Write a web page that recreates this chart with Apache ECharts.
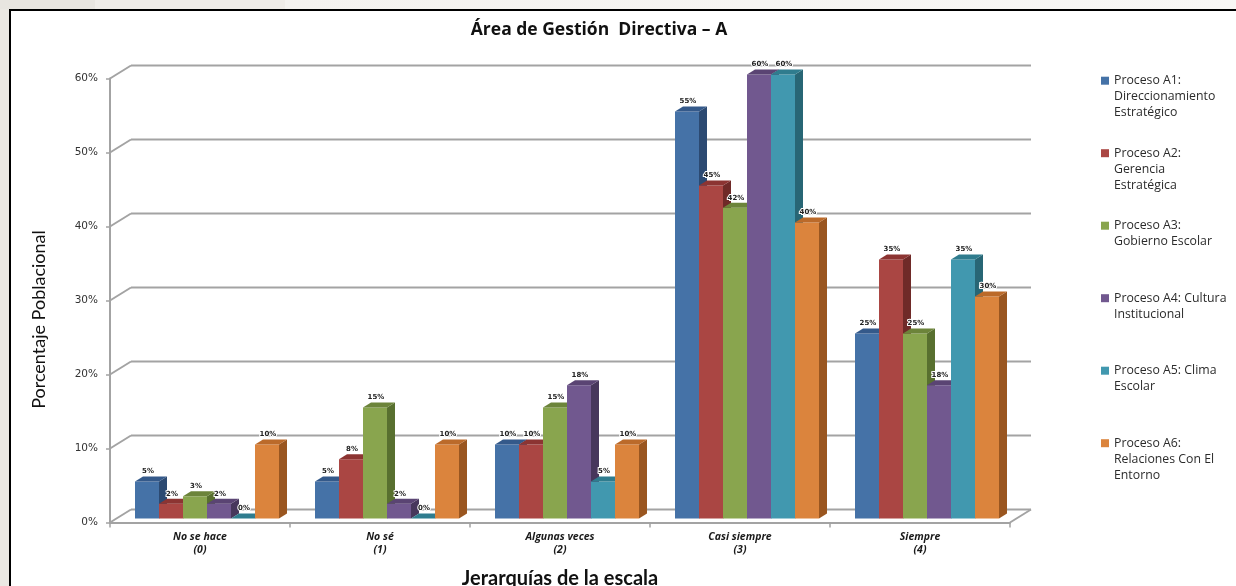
<!DOCTYPE html>
<html>
<head>
<meta charset="utf-8">
<script src="https://cdn.jsdelivr.net/npm/echarts@6/dist/echarts.min.js"></script>
<style>
  html, body { margin: 0; padding: 0; width: 1236px; height: 586px; overflow: hidden; background: #ebe8e3; }
  #strip { position: absolute; left: 0; top: 0; width: 1236px; height: 9px;
    background: linear-gradient(to right, #e8e5e0 0, #e8e5e0 95px, #efece8 95px, #efece8 285px, #f4f2ef 285px, #f8f7f5 100%); }
  #frame { position: absolute; left: 9px; top: 9px; width: 1240px; height: 590px;
    border-left: 2px solid #000; border-top: 2px solid #000; background: #fff; }
  #chart { position: absolute; left: 0; top: 0; width: 1236px; height: 586px; }
</style>
</head>
<body>
<div id="strip"></div>
<div id="frame"></div>
<div id="chart"></div>
<script>
// Scale categories (x axis)
const categories = ['No se hace\n(0)', 'No sé\n(1)', 'Algunas veces\n(2)', 'Casi siempre\n(3)', 'Siempre\n(4)'];

// Legend text, one entry per process, split into the lines shown
const legendLines = [
  ['Proceso A1:', 'Direccionamiento', 'Estratégico'],
  ['Proceso A2:', 'Gerencia', 'Estratégica'],
  ['Proceso A3:', 'Gobierno Escolar'],
  ['Proceso A4: Cultura', 'Institucional'],
  ['Proceso A5: Clima', 'Escolar'],
  ['Proceso A6:', 'Relaciones Con El', 'Entorno']
];

// Percentages per process, in category order
const procesoA1 = [5, 5, 10, 55, 25];
const procesoA2 = [2, 8, 10, 45, 35];
const procesoA3 = [3, 15, 15, 42, 25];
const procesoA4 = [2, 2, 18, 60, 18];
const procesoA5 = [0, 0, 5, 60, 35];
const procesoA6 = [10, 10, 10, 40, 30];

// Y axis ticks (percent)
const yTicks = [0, 10, 20, 30, 40, 50, 60];

const seriesValues = [procesoA1, procesoA2, procesoA3, procesoA4, procesoA5, procesoA6];
const processNames = legendLines.map(l => l.join(' '));

// Face colours for the pseudo-3D columns
const frontColors = ['#4572a7', '#aa4643', '#89a54e', '#71588f', '#4198af', '#db843d'];
const topColors   = ['#34598a', '#8c3432', '#6c843a', '#5a4473', '#2f7c8e', '#bb6a2a'];
const sideColors  = ['#2c4a72', '#6f2a28', '#58702f', '#47375c', '#286675', '#9a5620'];

// Depth geometry (pixels)
const FLOOR_DEPTH = [21, -13];
const BAR_OFFSET = [7, -4];
const BAR_DEPTH = [8, -5];
const GROUP_FRAC = 0.8;
const N = seriesValues.length;
const FONT = 'Lato, "Open Sans", sans-serif';
const WIDE_FONT = '"Open Sans", Lato, sans-serif';

const wallStyle = { stroke: '#a3a3a3', lineWidth: 2 };

function barGeom(api, ci, k, v) {
  const band = api.size([1, 0])[0];
  const bw = band * GROUP_FRAC / N;
  const base = api.coord([ci, 0]);
  const top = api.coord([ci, v]);
  const x0 = base[0] - (N / 2) * bw + k * bw + BAR_OFFSET[0];
  return { x0, bw, yb: base[1] + BAR_OFFSET[1], yt: top[1] + BAR_OFFSET[1] };
}

function barRenderer(k) {
  return function (params, api) {
    const g = barGeom(api, api.value(0), k, api.value(1));
    const dx = BAR_DEPTH[0], dy = BAR_DEPTH[1];
    const { x0, bw, yb, yt } = g;
    return {
      type: 'group',
      children: [
        { type: 'polygon', shape: { points: [[x0 + bw, yb], [x0 + bw + dx, yb + dy], [x0 + bw + dx, yt + dy], [x0 + bw, yt]] },
          style: { fill: sideColors[k] } },
        { type: 'rect', shape: { x: x0, y: yt, width: bw, height: yb - yt }, style: { fill: frontColors[k] } },
        { type: 'polygon', shape: { points: [[x0, yt], [x0 + bw, yt], [x0 + bw + dx, yt + dy], [x0 + dx, yt + dy]] },
          style: { fill: topColors[k] } }
      ]
    };
  };
}

// Walls: left-wall diagonals and back-wall gridlines at every tick
const wallSeries = {
  type: 'custom',
  name: 'walls',
  silent: true,
  clip: false,
  z: 1,
  data: yTicks.map(v => [0, v]),
  encode: { x: 0, y: 1 },
  renderItem(params, api) {
    const v = api.value(1);
    const cs = params.coordSys;
    const y = api.coord([0, v])[1];
    const x0 = cs.x, x1 = cs.x + cs.width;
    const fx = FLOOR_DEPTH[0], fy = FLOOR_DEPTH[1];
    const children = [
      { type: 'line', shape: { x1: x0, y1: y, x2: x0 + fx, y2: y + fy }, style: wallStyle },
      { type: 'line', shape: { x1: x0 + fx, y1: y + fy, x2: x1 + fx, y2: y + fy }, style: wallStyle }
    ];
    if (v === 0) {
      children.push({ type: 'line', shape: { x1: x1, y1: y, x2: x1 + fx, y2: y + fy }, style: wallStyle });
    }
    return { type: 'group', children };
  }
};

const barSeries = seriesValues.map((vals, k) => ({
  type: 'custom',
  name: processNames[k],
  clip: false,
  z: 2,
  itemStyle: { color: frontColors[k] },
  data: vals.map((v, i) => [i, v]),
  encode: { x: 0, y: 1 },
  renderItem: barRenderer(k)
}));

// Value labels above every column
const labelData = [];
seriesValues.forEach((vals, k) => vals.forEach((v, i) => labelData.push([i, v, k])));
const labelSeries = {
  type: 'custom',
  name: 'labels',
  silent: true,
  clip: false,
  z: 3,
  data: labelData,
  encode: { x: 0, y: 1 },
  renderItem(params, api) {
    const v = api.value(1), k = api.value(2);
    const g = barGeom(api, api.value(0), k, v);
    return {
      type: 'text',
      x: g.x0 + g.bw / 2 + 1,
      y: g.yt - 10,
      style: {
        text: v + '%',
        fill: '#222',
        font: 'bold 7px "DejaVu Sans", sans-serif',
        align: 'center',
        verticalAlign: 'middle',
        stroke: '#fff',
        lineWidth: 2
      }
    };
  }
};

// Legend: icon + first line; remaining lines are set underneath as text blocks
const LEG_LH = 16;
const LEG_STEP = 72.5;
const LEG_FIRST = 80.7;
const LEG_ICON_X = 1101;
const LEG_TEXT_X = LEG_ICON_X + 8 + 5;
const legendTextStyle = { fontFamily: WIDE_FONT, fontSize: 12.3, color: '#2b2b2b', lineHeight: LEG_LH };
const firstLineOf = {};
legendLines.forEach((lines, k) => { firstLineOf[processNames[k]] = lines[0]; });

const legend = {
  orient: 'vertical',
  left: LEG_ICON_X,
  top: LEG_FIRST - LEG_LH / 2,
  padding: 0,
  itemWidth: 8,
  itemHeight: 8,
  itemGap: LEG_STEP - LEG_LH,
  selectedMode: false,
  icon: 'rect',
  data: processNames,
  formatter: name => firstLineOf[name],
  textStyle: legendTextStyle
};

const legendContinuations = legendLines.map((lines, k) => ({
  text: lines.slice(1).join('\n'),
  left: LEG_TEXT_X,
  top: LEG_FIRST + LEG_STEP * k + LEG_LH / 2,
  padding: 0,
  textStyle: Object.assign({ fontWeight: 'normal' }, legendTextStyle)
}));

const chart = echarts.init(document.getElementById('chart'), null, { renderer: 'canvas' });
chart.setOption({
  animation: false,
  backgroundColor: 'transparent',
  textStyle: { fontFamily: FONT },
  title: [{
    text: 'Área de Gestión  Directiva – A',
    left: 594,
    textAlign: 'center',
    top: 16,
    textStyle: { fontFamily: WIDE_FONT, fontSize: 17.5, fontWeight: 'bold', color: '#111' }
  }].concat(legendContinuations),
  legend: legend,
  grid: { left: 110, top: 78.5, width: 900, height: 444, containLabel: false, outerBoundsMode: 'none' },
  xAxis: {
    type: 'category',
    data: categories,
    name: 'Jerarquías de la escala',
    nameLocation: 'middle',
    nameGap: 46,
    nameTextStyle: { fontFamily: FONT, fontSize: 20, fontWeight: 'bold', color: '#111' },
    axisLine: { lineStyle: { color: '#a3a3a3', width: 2 } },
    axisTick: { show: true, interval: 0, length: 5, lineStyle: { color: '#a3a3a3', width: 1.5 } },
    axisLabel: {
      interval: 0,
      margin: 8,
      fontFamily: WIDE_FONT,
      fontSize: 10.5,
      fontStyle: 'italic',
      fontWeight: 'bold',
      lineHeight: 13,
      color: '#1a1a1a'
    },
    splitLine: { show: false }
  },
  yAxis: {
    type: 'value',
    min: yTicks[0],
    max: yTicks[yTicks.length - 1],
    interval: yTicks[1] - yTicks[0],
    name: 'Porcentaje Poblacional',
    nameLocation: 'middle',
    nameRotate: 90,
    nameGap: 62,
    nameTextStyle: { fontFamily: FONT, fontSize: 18, color: '#111', padding: [0, 38, 0, 0] },
    axisLine: { show: true, lineStyle: { color: '#a3a3a3', width: 2 } },
    axisTick: { show: true, length: 4, lineStyle: { color: '#a3a3a3', width: 1.5 } },
    axisLabel: {
      formatter: '{value}%',
      margin: 12,
      fontFamily: '"DejaVu Sans", sans-serif',
      fontSize: 10.5,
      color: '#333'
    },
    splitLine: { show: false }
  },
  series: [wallSeries, ...barSeries, labelSeries]
});
</script>
</body>
</html>
